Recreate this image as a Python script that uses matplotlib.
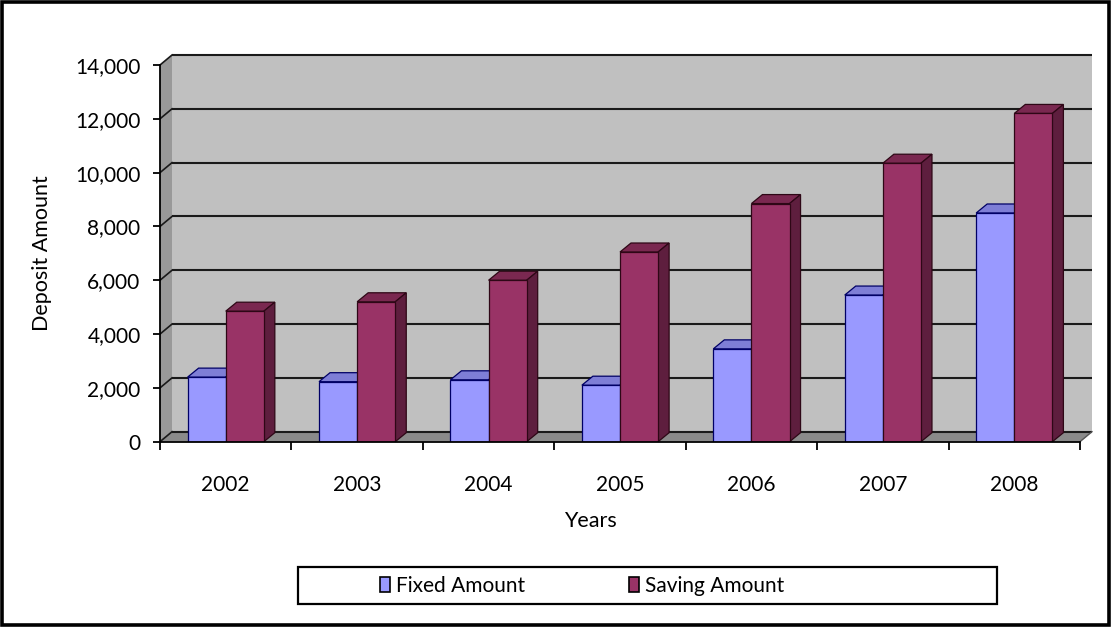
import matplotlib
matplotlib.use("Agg")
import matplotlib.pyplot as plt
from matplotlib.patches import Polygon, Rectangle, Patch
from matplotlib.ticker import FixedLocator, FuncFormatter

# ---- data -------------------------------------------------------------
years = ["2002", "2003", "2004", "2005", "2006", "2007", "2008"]
fixed_amount = [2400, 2230, 2300, 2100, 3450, 5450, 8500]
saving_amount = [4850, 5200, 6000, 7050, 8850, 10350, 12200]
y_ticks = [0, 2000, 4000, 6000, 8000, 10000, 12000, 14000]
series_names = ["Fixed Amount", "Saving Amount"]

# ---- style ------------------------------------------------------------
plt.rcParams["font.family"] = ["Lato", "DejaVu Sans"]
FS = 15

fixed_front, fixed_top, fixed_side, fixed_edge = "#9999FF", "#7E7ED6", "#5C5CB8", "#000066"
sav_front, sav_top, sav_side, sav_edge = "#993366", "#7A2850", "#5E1E3E", "#2E0716"
back_wall, side_wall, floor_col = "#C0C0C0", "#999999", "#8A8A8A"

W, H = 1112, 627
fig = plt.figure(figsize=(W / 100, H / 100), dpi=100)

# plot area (front plane) in pixels
pl, pr, pt, pb = 160, 1080, 65, 441.7
ax = fig.add_axes([pl / W, 1 - pb / H, (pr - pl) / W, (pb - pt) / H])
n = len(years)
ymax = y_ticks[-1]
ax.set_xlim(-0.5, n - 0.5)
ax.set_ylim(0, ymax)
ax.patch.set_visible(False)

ux = n / (pr - pl)          # category units per pixel
uy = ymax / (pb - pt)       # value units per pixel
wdx, wdy = 12 * ux, 10 * uy  # wall depth
bdx, bdy = 11 * ux, 9 * uy   # bar depth

x0, x1 = -0.5, n - 0.5
# walls and floor
ax.add_patch(Polygon([(x0 + wdx, wdy), (x1 + wdx, wdy), (x1 + wdx, ymax + wdy), (x0 + wdx, ymax + wdy)],
                     closed=True, facecolor=back_wall, edgecolor="none", clip_on=False, zorder=0.5))
ax.add_patch(Polygon([(x0, 0), (x0, ymax), (x0 + wdx, ymax + wdy), (x0 + wdx, wdy)],
                     closed=True, facecolor=side_wall, edgecolor="none", clip_on=False, zorder=0.6))
ax.add_patch(Polygon([(x0, 0), (x1, 0), (x1 + wdx, wdy), (x0 + wdx, wdy)],
                     closed=True, facecolor=floor_col, edgecolor="none", clip_on=False, zorder=0.6))

# gridlines on back wall and side wall
for v in y_ticks:
    ax.plot([x0 + wdx, x1 + wdx], [v + wdy, v + wdy], color="#1a1a1a", lw=1.5,
            clip_on=False, zorder=1, solid_capstyle="butt")
    ax.plot([x0, x0 + wdx], [v, v + wdy], color="#1a1a1a", lw=1.2, clip_on=False, zorder=1)
ax.plot([x1, x1 + wdx], [0, wdy], color="#555555", lw=1.0, clip_on=False, zorder=1)

# 3D bars
bw = 0.29
xs = list(range(n))


def draw_bar(xl, v, front, top, side, edge, z):
    xr = xl + bw
    ax.add_patch(Polygon([(xl, v), (xr, v), (xr + bdx, v + bdy), (xl + bdx, v + bdy)], closed=True,
                         facecolor=top, edgecolor=edge, lw=0.9, zorder=z, clip_on=False))
    ax.add_patch(Polygon([(xr, 0), (xr + bdx, bdy), (xr + bdx, v + bdy), (xr, v)], closed=True,
                         facecolor=side, edgecolor=edge, lw=0.9, zorder=z, clip_on=False))


for i in xs:
    draw_bar(i - bw, fixed_amount[i], fixed_front, fixed_top, fixed_side, fixed_edge, 3)
    draw_bar(i, saving_amount[i], sav_front, sav_top, sav_side, sav_edge, 4)

ax.bar([i - bw for i in xs], fixed_amount, width=bw, align="edge", color=fixed_front,
       edgecolor=fixed_edge, lw=0.9, zorder=3.1)
ax.bar(xs, saving_amount, width=bw, align="edge", color=sav_front,
       edgecolor=sav_edge, lw=0.9, zorder=4.1)

# axes
for s in ("top", "right"):
    ax.spines[s].set_visible(False)
for s in ("left", "bottom"):
    ax.spines[s].set_linewidth(1.3)
    ax.spines[s].set_color("black")
    ax.spines[s].set_zorder(5)

ax.yaxis.set_major_locator(FixedLocator(y_ticks))
ax.yaxis.set_major_formatter(FuncFormatter(lambda v, p: f"{int(v):,}"))
ax.tick_params(axis="y", direction="out", length=5, width=1.3, pad=9, labelsize=FS, colors="black")

ax.set_xticks(xs)
ax.set_xticklabels(years)
ax.set_xticks([i - 0.5 for i in range(n + 1)], minor=True)
ax.tick_params(axis="x", which="major", length=0, pad=24, labelsize=FS)
ax.tick_params(axis="x", which="minor", direction="out", length=6, width=1.3)

fig.text(42 / W, 1 - 253 / H, "Deposit Amount", rotation=90, ha="center", va="center", fontsize=FS + 0.5)
fig.text(590 / W, 1 - 521 / H, "Years", ha="center", va="center", fontsize=FS + 0.5)

# legend
handles = [Patch(facecolor=fixed_front, edgecolor="black", lw=1.2),
           Patch(facecolor=sav_front, edgecolor="black", lw=1.2)]
fig.legend(handles, series_names, loc="center left", bbox_to_anchor=(380 / W, 1 - 586 / H),
           ncol=2, frameon=False, fontsize=FS, handlelength=0.5, handleheight=0.75,
           handletextpad=0.25, columnspacing=5.0, borderpad=0, borderaxespad=0)
fig.add_artist(Rectangle((298 / W, 1 - 604 / H), (997 - 298) / W, (604 - 567) / H,
                         transform=fig.transFigure, fill=False, edgecolor="black", lw=1.6))

# outer frame
fig.add_artist(Rectangle((2 / W, 2 / H), (W - 5) / W, (H - 4) / H, transform=fig.transFigure,
                         fill=False, edgecolor="black", lw=2.6))

fig.savefig("out.png", dpi=100)
